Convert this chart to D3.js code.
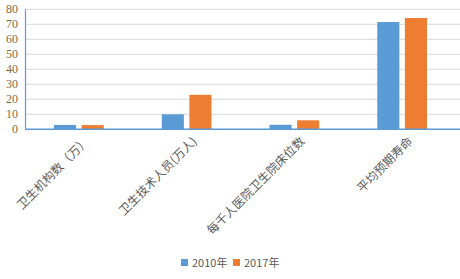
<!DOCTYPE html>
<html><head><meta charset="utf-8">
<script src="https://cdn.jsdelivr.net/npm/d3@7"></script>
<style>body{margin:0;background:#fff}svg{display:block}</style>
</head><body>
<svg id="c" width="460" height="279"></svg>
<script>
const categories = ["卫生机构数（万）", "卫生技术人员(万人)", "每千人医院卫生院床位数", "平均预期寿命"];
const seriesNames = ["2010年", "2017年"];
const values2010 = [2.9, 10, 3, 71.5];
const values2017 = [2.8, 23, 6, 74.2];
const yTicks = [0, 10, 20, 30, 40, 50, 60, 70, 80];
const colors = ["#5b9bd5", "#ed7d31"];

const svg = d3.select("#c");
const y = d3.scaleLinear().domain([0, 80]).range([129.3, 9.3]);
const x = d3.scaleBand().domain(categories).range([25, 456]).paddingInner(0).paddingOuter(0);
const xs = d3.scaleBand().domain(seriesNames).range([0, x.bandwidth()]).paddingInner(0.2).paddingOuter(1.05);

// grid
svg.append("g").selectAll("line").data(yTicks.slice(1)).join("line")
  .attr("x1", 25).attr("x2", 460).attr("y1", d => y(d)).attr("y2", d => y(d))
  .attr("stroke", "#d9d9d9").attr("stroke-width", 1);

// bars
const data = categories.map((c, i) => ({c, v: [values2010[i], values2017[i]]}));
const g = svg.append("g").selectAll("g").data(data).join("g")
  .attr("transform", d => `translate(${x(d.c)},0)`);
g.selectAll("rect").data(d => d.v.map((v, j) => ({v, s: seriesNames[j], j}))).join("rect")
  .attr("x", d => xs(d.s)).attr("width", xs.bandwidth())
  .attr("y", d => y(d.v)).attr("height", d => y(0) - y(d.v))
  .attr("fill", d => colors[d.j]);

// axes lines
svg.append("line").attr("x1", 25.5).attr("x2", 25.5).attr("y1", y(80)).attr("y2", y(0))
  .attr("stroke", "#5b9bd5").attr("stroke-width", 1.2);
svg.append("line").attr("x1", 25).attr("x2", 460).attr("y1", y(0)).attr("y2", y(0))
  .attr("stroke", "#5b9bd5").attr("stroke-width", 1.5);

// y tick labels
svg.append("g").selectAll("text").data(yTicks).join("text")
  .attr("x", 18).attr("y", d => y(d) + 4).attr("text-anchor", "end")
  .attr("font-family", "Liberation Serif, serif").attr("font-size", 12)
  .attr("fill", "#7f6a3f").text(d => d);

// category labels
svg.append("g").selectAll("text").data(categories).join("text")
  .attr("transform", d => `translate(${x(d) + x.bandwidth()/2 + 11},${142}) rotate(-45)`)
  .attr("text-anchor", "end")
  .attr("font-family", "Noto Sans CJK SC, sans-serif").attr("font-size", 12)
  .attr("fill", "#595959").text(d => d);

// legend
const lg = svg.append("g").attr("transform", "translate(0,264)");
const lx = [181, 233];
seriesNames.forEach((s, i) => {
  lg.append("rect").attr("x", lx[i]).attr("y", -5).attr("width", 7).attr("height", 7).attr("fill", colors[i]);
  lg.append("text").attr("x", lx[i] + 11).attr("y", 3).attr("font-family", "Noto Sans CJK SC, sans-serif")
    .attr("font-size", 11).attr("fill", "#595959").text(s);
});
</script>
</body></html>
